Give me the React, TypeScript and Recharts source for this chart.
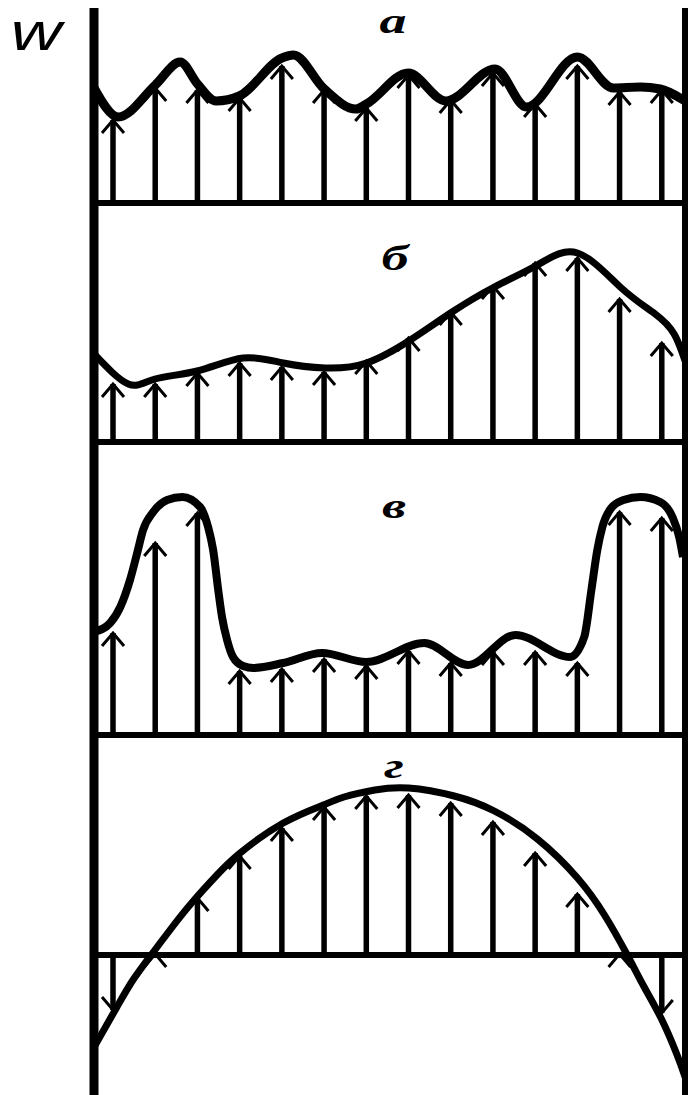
import React from 'react';
import { ComposedChart, Bar, Line, XAxis, YAxis, ReferenceLine } from 'recharts';

const stations = ['1', '2', '3', '4', '5', '6', '7', '8', '9', '10', '11', '12', '13', '14'];
const panelLetters = ['а', 'б', 'в', 'г'];
const axisLabel = 'w';

// velocity arrows at each station, one list per profile
const arrowsA = [83, 115, 113, 105, 137, 113, 95, 128, 103, 130, 99, 137, 111, 113];
const arrowsB = [58, 58, 69, 79, 75, 70, 81, 104, 130, 156, 179, 184, 143, 99];
const arrowsV = [102, 192, 222, 64, 66, 76, 69, 84, 72, 83, 83, 72, 223, 217];
const arrowsG = [-55, 1, 57, 99, 127, 148, 159, 160, 152, 133, 102, 61, 1, -58];

// envelope curves as [position, velocity]; position 0 = station 1, 13 = station 14
const curveA = [
  [-0.45, 115], [0.12, 86], [1.0, 118], [1.59, 141], [2.0, 119], [2.44, 102], [2.99, 107],
  [4.0, 145], [4.27, 148], [5.0, 114], [5.75, 94], [6.0, 99], [6.99, 130], [7.88, 102],
  [9.05, 134], [9.79, 96], [11.0, 146], [11.85, 115], [12.49, 116], [12.96, 114], [13.55, 102],
];
const curveB = [
  [-0.45, 88], [0.36, 58], [0.99, 63], [1.99, 71], [3.08, 84], [4.03, 79], [5.02, 74],
  [6.0, 79], [7.04, 102], [8.03, 130], [9.03, 155], [10.05, 177], [11.0, 189], [12.04, 154],
  [12.84, 128], [13.29, 108], [13.55, 81],
];
const curveV = [
  [-0.45, 103], [-0.07, 112], [0.17, 128], [0.4, 155], [0.57, 182], [0.71, 205], [0.95, 223],
  [1.28, 235], [1.64, 238], [2.06, 228], [2.25, 208], [2.37, 185], [2.49, 145], [2.58, 118],
  [2.7, 95], [2.84, 78], [3.08, 69], [3.32, 67], [4.03, 72], [4.95, 82], [6.0, 73], [7.37, 92],
  [8.41, 70], [9.53, 100], [10.83, 78], [11.16, 98], [11.33, 145], [11.47, 185], [11.59, 208],
  [11.8, 227], [12.09, 235], [12.49, 238], [12.96, 233], [13.25, 218], [13.41, 198], [13.5, 178],
];
const curveG = [
  [-0.45, -92], [0.09, -52], [0.47, -25], [0.9, 0], [1.42, 29], [1.9, 54], [2.46, 80],
  [3.01, 102], [4.03, 132], [4.98, 150], [5.47, 158], [6.2, 165], [7.0, 167], [8.08, 159],
  [9.03, 144], [10.05, 116], [11.0, 77], [11.64, 40], [12.18, 0], [12.58, -32], [12.99, -64],
  [13.36, -100], [13.55, -122],
];

// page layout
const WIDTH = 688;
const HEIGHT = 1095;
const PLOT_LEFT = 92;
const PLOT_RIGHT = 683;
const BAND = (PLOT_RIGHT - PLOT_LEFT) / stations.length;
const toPos = (px: number) => (px - PLOT_LEFT) / BAND - 0.5;
const LEFT_WALL = toPos(94);
const RIGHT_WALL = toPos(686);

const panels = [
  { top: 0, height: 221, padTop: 8, base: 203, arrows: arrowsA, curve: curveA, curveType: 'monotone', lineWidth: 9, lx: 393, ly: 33 },
  { top: 221, height: 227, padTop: 0, base: 442, arrows: arrowsB, curve: curveB, curveType: 'natural', lineWidth: 7, lx: 395, ly: 270 },
  { top: 448, height: 294, padTop: 0, base: 735, arrows: arrowsV, curve: curveV, curveType: 'monotone', lineWidth: 8, lx: 394, ly: 518 },
  { top: 742, height: 353, padTop: 0, base: 955, arrows: arrowsG, curve: curveG, curveType: 'natural', lineWidth: 7, lx: 394, ly: 778 },
];

// bar drawn as a velocity arrow: shaft from the baseline, open head at the tip
const Arrow = (props: any) => {
  const { x, y, width, height, payload } = props;
  if (x == null || y == null || !payload) return null;
  const cx = x + width / 2;
  const top = Math.min(y, y + height);
  const bottom = Math.max(y, y + height);
  const up = payload.v >= 0;
  const tip = up ? top : bottom;
  const base = up ? bottom : top;
  const dir = up ? 1 : -1;
  return (
    <g>
      <line x1={cx} y1={base} x2={cx} y2={tip} stroke="#000" strokeWidth={5.5} />
      <polyline
        points={`${cx - 11},${tip + dir * 13} ${cx},${tip} ${cx + 11},${tip + dir * 13}`}
        fill="none"
        stroke="#000"
        strokeWidth={3}
      />
    </g>
  );
};

const Panel = ({ p }: { p: (typeof panels)[number] }) => {
  const data = p.arrows.map((v, i) => ({ station: stations[i], v }));
  const curve = p.curve.map(([x, h]) => ({ x, h }));
  const baseRel = p.base - p.top;
  const domain = [-(p.height - baseRel), baseRel - p.padTop];
  return (
    <ComposedChart
      width={WIDTH}
      height={p.height}
      data={data}
      margin={{ top: p.padTop, right: WIDTH - PLOT_RIGHT, bottom: 0, left: PLOT_LEFT }}
    >
      <XAxis xAxisId="cat" dataKey="station" type="category" hide />
      <XAxis xAxisId="pos" dataKey="x" type="number" domain={[-0.5, 13.5]} allowDataOverflow hide />
      <YAxis type="number" domain={domain} allowDataOverflow hide />
      <ReferenceLine xAxisId="pos" y={0} stroke="#000" strokeWidth={6} />
      <Bar xAxisId="cat" dataKey="v" barSize={6} shape={(s: any) => <Arrow {...s} />} isAnimationActive={false} />
      <Line
        xAxisId="pos"
        data={curve}
        dataKey="h"
        type={p.curveType as any}
        stroke="#000"
        strokeWidth={p.lineWidth}
        dot={false}
        activeDot={false}
        isAnimationActive={false}
      />
      <ReferenceLine xAxisId="pos" x={LEFT_WALL} stroke="#000" strokeWidth={9} ifOverflow="visible" />
      <ReferenceLine xAxisId="pos" x={RIGHT_WALL} stroke="#000" strokeWidth={8} ifOverflow="visible" />
    </ComposedChart>
  );
};

const App = () => (
  <div style={{ position: 'absolute', left: 0, top: 0, width: WIDTH, height: HEIGHT, background: '#fff', overflow: 'hidden' }}>
    {panels.map((p, i) => (
      <Panel key={i} p={p} />
    ))}
    <svg width={WIDTH} height={HEIGHT} style={{ position: 'absolute', left: 0, top: 0, pointerEvents: 'none' }}>
      <text
        x={36}
        y={50}
        textAnchor="middle"
        fontFamily="'Liberation Sans', sans-serif"
        fontStyle="italic"
        fontSize={54}
        transform="translate(36,0) scale(1.3,1) translate(-36,0)"
      >
        {axisLabel}
      </text>
      {panels.map((p, i) => (
        <text
          key={i}
          x={p.lx}
          y={p.ly}
          textAnchor="middle"
          fontFamily="'Liberation Serif', serif"
          fontWeight="bold"
          fontStyle="italic"
          fontSize={36}
          transform={`translate(${p.lx},0) scale(1.5,1) translate(${-p.lx},0)`}
        >
          {panelLetters[i]}
        </text>
      ))}
    </svg>
  </div>
);

export default App;
